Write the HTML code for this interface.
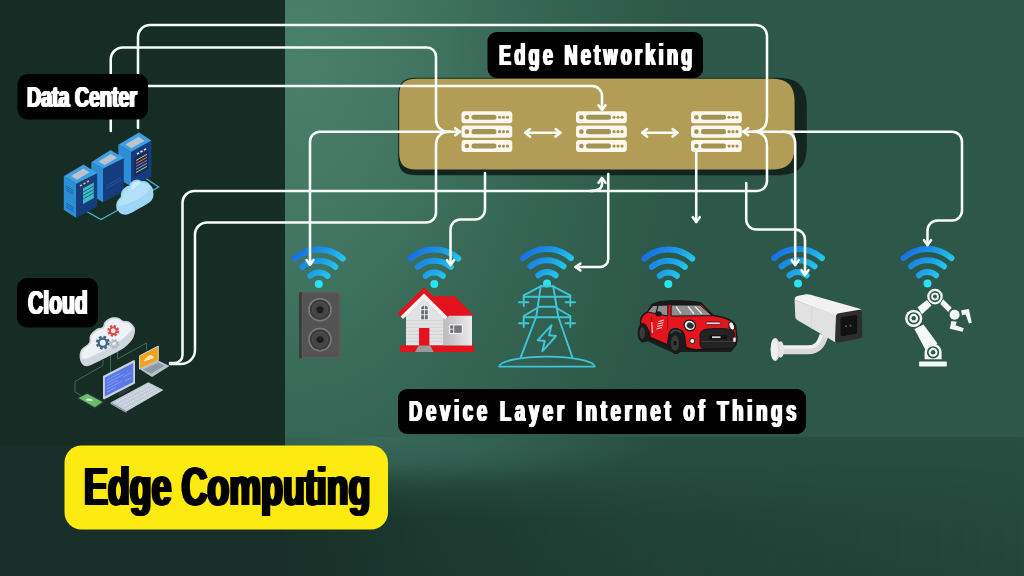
<!DOCTYPE html>
<html lang="en">
<head>
<meta charset="utf-8">
<title>Edge Computing</title>
<style>
html,body{margin:0;padding:0;background:#162d26;}
body{width:1024px;height:576px;overflow:hidden;position:relative;font-family:"Liberation Sans",sans-serif;}
svg{position:absolute;left:0;top:0;display:block;}
.ln{fill:none;stroke:#f6fcf8;stroke-width:2.55;stroke-linecap:round;stroke-linejoin:round;}
.lbl{font-family:"Liberation Sans",sans-serif;font-weight:bold;}

.t{will-change:transform;position:absolute;white-space:nowrap;font-weight:bold;line-height:1;transform-origin:0 0;color:#fff;margin:0;}
</style>
</head>
<body>
<svg width="1024" height="576" viewBox="0 0 1024 576">
<defs>
  <radialGradient id="wall" cx="300" cy="50" r="400" gradientUnits="userSpaceOnUse" gradientTransform="translate(300 50) scale(1 1.7) translate(-300 -50)">
    <stop offset="0" stop-color="#49806c"/>
    <stop offset="0.25" stop-color="#437763"/>
    <stop offset="0.55" stop-color="#376756"/>
    <stop offset="0.85" stop-color="#2f5b4b"/>
    <stop offset="1" stop-color="#2d5748"/>
  </radialGradient>
  <linearGradient id="floorB" x1="0" y1="437" x2="0" y2="576" gradientUnits="userSpaceOnUse">
    <stop offset="0" stop-color="#274e41"/>
    <stop offset="1" stop-color="#23463a"/>
  </linearGradient>
  <linearGradient id="floorH" x1="285" y1="0" x2="1024" y2="0" gradientUnits="userSpaceOnUse">
    <stop offset="0" stop-color="#172f28" stop-opacity="0.95"/>
    <stop offset="0.2" stop-color="#172f28" stop-opacity="0.6"/>
    <stop offset="0.5" stop-color="#172f28" stop-opacity="0.25"/>
    <stop offset="1" stop-color="#172f28" stop-opacity="0"/>
  </linearGradient>
  <linearGradient id="floorM" x1="0" y1="466" x2="0" y2="522" gradientUnits="userSpaceOnUse">
    <stop offset="0" stop-color="#fff" stop-opacity="0"/>
    <stop offset="1" stop-color="#fff" stop-opacity="1"/>
  </linearGradient>
  <mask id="fm" maskUnits="userSpaceOnUse" x="0" y="437" width="1024" height="139">
    <rect x="0" y="437" width="1024" height="139" fill="url(#floorM)"/>
  </mask>
  <radialGradient id="glow" cx="380" cy="437" r="280" gradientUnits="userSpaceOnUse" gradientTransform="translate(380 437) scale(1 0.2) translate(-380 -437)">
    <stop offset="0" stop-color="#38695a" stop-opacity="1"/>
    <stop offset="0.5" stop-color="#38695a" stop-opacity="0.6"/>
    <stop offset="1" stop-color="#38695a" stop-opacity="0"/>
  </radialGradient>
  <linearGradient id="wf" x1="-27" y1="-40" x2="20" y2="0" gradientUnits="userSpaceOnUse">
    <stop offset="0" stop-color="#155ee0"/>
    <stop offset="0.55" stop-color="#1c9fe8"/>
    <stop offset="1" stop-color="#2be4f2"/>
  </linearGradient>
  <linearGradient id="hside" x1="443" y1="0" x2="472" y2="0" gradientUnits="userSpaceOnUse"><stop offset="0" stop-color="#b9b9b9"/><stop offset="1" stop-color="#ececec"/></linearGradient>
  <g id="wifi" fill="none" stroke="url(#wf)" stroke-width="6" stroke-linecap="round">
    <path d="M-23.9,-25.5 A36.5,36.5 0 0 1 23.9,-25.5"/>
    <path d="M-16.5,-17.2 A25.5,25.5 0 0 1 16.5,-17.2"/>
    <path d="M-8.6,-8.2 A13.2,13.2 0 0 1 8.6,-8.2"/>
    <circle cx="0" cy="0" r="4" fill="#2be2f2" stroke="none"/>
  </g>
  <g id="srvrow">
    <rect x="0" y="0" width="50.8" height="12.1" rx="3" fill="#fdf9ec"/>
    <circle cx="5.4" cy="6.05" r="2.3" fill="#a39357"/>
    <rect x="10" y="3.5" width="25" height="5.1" rx="2.5" fill="#a39357"/>
    <circle cx="38.1" cy="6.05" r="1.6" fill="#a39357"/>
    <circle cx="42" cy="6.05" r="1.6" fill="#a39357"/>
    <circle cx="46" cy="6.05" r="1.6" fill="#a39357"/>
  </g>
  <g id="srv">
    <use href="#srvrow" x="0" y="0"/>
    <use href="#srvrow" x="0" y="14.4"/>
    <use href="#srvrow" x="0" y="28.8"/>
  </g>
</defs>

<!-- background -->
<rect x="0" y="0" width="1024" height="576" fill="#172f28"/>
<rect x="285" y="0" width="739" height="438" fill="url(#wall)"/>
<rect x="285" y="437" width="739" height="139" fill="url(#floorB)"/>
<rect x="285" y="437" width="739" height="70" fill="url(#glow)"/>
<rect x="285" y="437" width="739" height="139" fill="url(#floorH)" mask="url(#fm)"/>
<rect x="0" y="0" width="285" height="445.500" fill="#162d26"/>

<!-- gold box -->
<path d="M416.2,77.7 H776.8 C798.4,77.7 806.8,86.1 806.8,107.7 V145.3 C806.8,166.9 798.4,175.3 776.8,175.3 H416.2 C403.2,175.3 398.2,170.3 398.2,157.3 V95.7 C398.2,82.7 403.2,77.7 416.2,77.7 Z" fill="#12261f"/>
<path d="M416.2,78.8 H770.6 C787.9,78.8 794.6,85.5 794.6,102.8 V145.6 C794.6,162.9 787.9,169.6 770.6,169.6 H416.2 C404.0,169.6 399.2,164.8 399.2,152.6 V95.8 C399.2,83.6 404.0,78.8 416.2,78.8 Z" fill="#b39c55"/>

<!-- wifi icons -->
<use href="#wifi" x="318.8" y="284"/>
<use href="#wifi" x="434.3" y="284"/>
<use href="#wifi" x="547" y="283.5"/>
<use href="#wifi" x="668.3" y="284"/>
<use href="#wifi" x="798" y="283.5"/>
<use href="#wifi" x="927.5" y="283.5"/>

<!-- lines -->
<g class="ln">
  <path d="M138,128 V37 A12,12 0 0 1 150,25 H756 A11,11 0 0 1 767,36 V117 Q767,131.7 753,131.7"/>
  <path d="M753,131.7 Q767,131.7 767,146 V181 A10,10 0 0 1 757,191 H194.5 A12,12 0 0 0 182.5,203 V355 A8,8 0 0 1 174.5,363 H170"/>
  <path d="M590,191 Q602,191 602,184 V178"/>
  <path d="M110.75,131 V59.5 A12,12 0 0 1 122.75,47.5 H427 A9,9 0 0 1 436,56.5 V118 Q436,131.7 450,131.7"/>
  <path d="M450,131.7 Q436,131.7 436,146 V212.5 A10,10 0 0 1 426,222.5 H207 A12,12 0 0 0 195,234.5 V350 A14,14 0 0 1 181,364 H170"/>
  <path d="M148,86 H592 A10,10 0 0 1 602,96 V110"/>
  <path d="M310,265 V142 A10,10 0 0 1 320,131.7 H460"/>
  <path d="M485,173 V209.5 A10,10 0 0 1 475,219.5 H460.5 A10,10 0 0 0 450.5,229.5 V265"/>
  <path d="M608.25,174 V259 A8,8 0 0 1 600.25,267 H575.5"/>
  <path d="M696.25,152 V222"/>
  <path d="M746.25,183 V219.5 A10,10 0 0 0 756.25,229.5 H795 A10,10 0 0 1 805,239.5 V275"/>
  <path d="M743,131.7 H952 A10,10 0 0 1 962,141.7 V210.5 A10,10 0 0 1 952,220.5 H937.5 A10,10 0 0 0 927.5,230.5 V245"/>
  <path d="M783,131.7 Q795.2,131.7 795.2,144 V265"/>
  <!-- double arrows -->
  <path d="M525.2,132.8 H560.4"/>
  <path d="M642.2,132.8 H677.4"/>
  <!-- arrow heads -->
  <path d="M455.2,128.2 L460.0,131.7 L455.2,135.2"/>
  <path d="M748.1,128.2 L743.3,131.7 L748.1,135.2"/>
  <path d="M598.5,105.2 L602.0,110.0 L605.5,105.2"/>
  <path d="M598.5,182.8 L602.0,178.0 L605.5,182.8"/>
  <path d="M306.5,260.0 L310.0,264.8 L313.5,260.0"/>
  <path d="M447.0,260.2 L450.5,265.0 L454.0,260.2"/>
  <path d="M580.4,263.5 L575.6,267.0 L580.4,270.5"/>
  <path d="M692.8,217.2 L696.2,222.0 L699.8,217.2"/>
  <path d="M801.5,270.2 L805.0,275.0 L808.5,270.2"/>
  <path d="M791.7,260.2 L795.2,265.0 L798.7,260.2"/>
  <path d="M924.0,240.2 L927.5,245.0 L931.0,240.2"/>
  <path d="M530.0,129.0 L525.2,132.8 L530.0,136.6"/>
  <path d="M555.6,129.0 L560.4,132.8 L555.6,136.6"/>
  <path d="M647.0,129.0 L642.2,132.8 L647.0,136.6"/>
  <path d="M672.6,129.0 L677.4,132.8 L672.6,136.6"/>
</g>

<!-- servers -->
<use href="#srv" x="461.5" y="111.2"/>
<use href="#srv" x="576" y="111.2"/>
<use href="#srv" x="691" y="111.2"/>

<!-- ICONS-BEGIN -->
<!-- data center icon -->
<g id="datacenter">
  <!-- cables -->
  <path d="M84,210 L101,219.500 L120,209" fill="none" stroke="#4fb4cc" stroke-width="1.300"/>
  <path d="M143,176.500 L158.600,187 L150,192" fill="none" stroke="#4fb4cc" stroke-width="1.300"/>
  <!-- rack 3 (back) -->
  <polygon points="118.300,144.800 131,152 131,186.300 118.300,179" fill="#2b8fd8"/>
  <polygon points="131,152 151.400,140.600 151.400,176.400 131,186.300" fill="#153d7e"/>
  <polygon points="118.300,144.800 139,132.500 151.400,140.600 131,152" fill="#3f9fe2"/>
  <polygon points="125.500,144.500 138.500,136.800 144.500,140.800 131.500,148.300" fill="#b9c4cc"/>
  <polygon points="134.500,157.500 148.500,149.500 148.500,168.500 134.500,177" fill="#0f2d62"/>
  <g stroke-width="1" fill="none">
    <path d="M136,160.500 L147,154.300" stroke="#f2c14e"/>
    <path d="M136,163.500 L147,157.300" stroke="#e8734a"/>
    <path d="M136,166.500 L147,160.300" stroke="#e85a6a"/>
    <path d="M136,169.500 L147,163.300" stroke="#48c4d8"/>
    <path d="M136,172.500 L147,166.300" stroke="#f2c14e"/>
  </g>
  <path d="M137,154 L139,152.900 M140.500,152 L142.500,150.900 M144,150 L146,148.900" stroke="#f4e9d0" stroke-width="1.600"/>
  <!-- rack 2 (middle) -->
  <polygon points="91.300,162.200 103,168.800 103,202.200 91.300,195.500" fill="#2b8fd8"/>
  <polygon points="103,168.800 123.800,158 123.800,191.300 103,202.200" fill="#153d7e"/>
  <polygon points="91.300,162.200 110.500,150 123.800,158 103,168.800" fill="#3f9fe2"/>
  <polygon points="98.500,161.500 111,154 117,157.800 104.500,165.200" fill="#b9c4cc"/>
  <path d="M106,186 L121,177.800 M106,188.500 L121,180.300" stroke="#24559c" stroke-width="0.900"/>
  <!-- rack 1 (front) -->
  <polygon points="63.800,176.300 76.300,183.800 76.300,218 63.800,209.700" fill="#2b8fd8"/>
  <polygon points="76.300,183.800 97.200,173 97.200,206.300 76.300,218" fill="#153d7e"/>
  <polygon points="63.800,176.300 83.500,164.500 97.200,173 76.300,183.800" fill="#3f9fe2"/>
  <polygon points="71,176 83.500,168.500 89.500,172.300 77,179.800" fill="#b9c4cc"/>
  <polygon points="83,188.500 93.800,182.500 93.800,198 83,204" fill="#3bbfc4"/>
  <path d="M80,186 L82,184.900 M83.500,184 L85.500,182.900 M87,182 L89,180.900" stroke="#f2b04e" stroke-width="1.600"/>
  <path d="M83,192 L93.800,186 M83,195.500 L93.800,189.500 M83,199 L93.800,193" stroke="#153d7e" stroke-width="0.800"/>
  <path d="M66,186 L73.500,190.500 M66,188 L73.500,192.500 M66,190 L73.500,194.500 M66,203 L73.500,207.500 M66,205 L73.500,209.500 M66,207 L73.500,211.500" stroke="#1a5ea8" stroke-width="0.900"/>
  <!-- cloud -->
  <path d="M116.200,206.500 C116,202 118.500,199 120.800,197 C120.500,193 122,189.500 125,187.500 C127,186 128.500,185.800 129.500,185.500 C130,183 132,180.500 136,179.800 C138.500,179.500 140.500,180.300 141.500,181.300 C144.500,180.500 148.500,182 150.500,185.300 C152.500,187 153.500,190 153.300,192.500 C154,196 152.800,199.800 150,202 C146,205 142,206.800 138.900,208.400 C135.500,210.500 132,212.500 129.600,213.600 C127.500,214.800 125.500,215 124,214.600 C121.500,214.300 119.500,213 118.800,211.500 C117,210.500 116.200,208.500 116.200,206.500 Z" fill="#9dd6f7"/>
  <path d="M118,206 C118,202 120,199.500 122.300,198 C122,193.500 124,190.500 126.500,189 C128,188 129.500,187.500 130.800,187.300 C131.500,184.500 133.500,182 136.500,181.500 C139,181.200 141,182.300 142,183.500 C145,182.500 148.500,184 150,187 C149,192 144,196 139,198.500 C133,201.500 125,205.500 118,206 Z" fill="#b4e0f9"/>
  <path d="M130.800,187.300 C131.500,184.500 133.500,182 136.500,181.500 C138.500,181.300 140,182 141,182.800 C138,184 135,186.500 133.500,190 C132.500,189 131.500,188 130.800,187.300 Z" fill="#d2ecfb"/>
</g>
<!-- cloud/devices icon -->
<g id="clouddev">
  <g fill="none" stroke="#4b6f63" stroke-width="0.900">
    <path d="M103,360 L103,365.500 L75,381.500 L75,392 L82,396"/>
    <path d="M110.500,352 L110.500,372"/>
    <path d="M117.500,350 L117.500,359 L146.500,343 L146.500,350"/>
  </g>
  <!-- cloud -->
  <path d="M79.6,356.2 C79.6,353.8 80.1,351.3 81.7,349.0 C83.3,346.7 87.6,345.0 89.0,342.7 C90.4,340.4 88.8,337.6 90.0,335.4 C91.2,333.1 94.2,330.6 96.2,329.2 C98.3,327.8 101.1,328.3 102.5,327.1 C103.9,325.9 103.2,323.5 104.6,321.9 C106.0,320.3 108.5,318.4 110.8,317.7 C113.0,317.0 116.0,317.2 118.1,317.7 C120.2,318.2 121.4,320.1 123.3,320.8 C125.2,321.5 127.7,320.7 129.6,321.9 C131.5,323.1 134.1,325.7 134.8,328.1 C135.5,330.5 134.6,334.1 133.8,336.5 C132.9,338.9 131.5,340.6 129.6,342.7 C127.7,344.8 125.8,346.7 122.3,349.0 C118.8,351.3 113.1,354.0 108.8,356.2 C104.4,358.5 99.9,360.8 96.2,362.5 C92.6,364.2 89.3,366.1 86.9,366.2 C84.5,366.4 82.9,365.2 81.7,363.5 C80.5,361.8 79.6,358.7 79.6,356.2 Z" fill="#cfd6de"/>
  <path d="M81.5,355.5 C81.6,353.9 82.0,351.5 83.5,349.5 C85.0,347.5 89.1,345.8 90.5,343.5 C91.9,341.2 90.6,338.1 91.8,336.0 C93.0,333.9 95.5,331.9 97.5,330.7 C99.5,329.4 102.4,329.8 103.8,328.5 C105.2,327.2 104.7,324.5 106.0,323.0 C107.3,321.5 109.5,319.9 111.5,319.3 C113.5,318.7 116.1,318.8 118.0,319.3 C119.9,319.8 121.2,321.6 123.0,322.3 C124.8,323.0 127.2,322.5 128.8,323.5 C130.4,324.5 132.6,326.8 132.5,328.5 C132.4,330.2 130.1,331.9 128.0,334.0 C125.9,336.1 123.3,338.6 120.0,341.0 C116.7,343.4 112.0,346.2 108.0,348.5 C104.0,350.8 99.3,352.9 96.0,354.5 C92.7,356.1 90.2,357.2 88.0,358.0 C85.8,358.8 84.1,359.4 83.0,359.0 C81.9,358.6 81.4,357.1 81.5,355.5 Z" fill="#eef1f5"/>
  <!-- gears -->
  <circle cx="102.800" cy="342.700" r="5.300" fill="none" stroke="#3d6a86" stroke-width="3.400" stroke-dasharray="2.400 1.760"/>
  <circle cx="102.800" cy="342.700" r="4.100" fill="none" stroke="#3d6a86" stroke-width="2.200"/>
  <circle cx="113.200" cy="330.800" r="4.400" fill="none" stroke="#e2473f" stroke-width="3" stroke-dasharray="2 1.456"/>
  <circle cx="113.200" cy="330.800" r="3.400" fill="none" stroke="#e2473f" stroke-width="1.900"/>
  <circle cx="114.300" cy="344" r="3.700" fill="none" stroke="#b4b9c2" stroke-width="2.600" stroke-dasharray="1.700 1.206"/>
  <circle cx="114.300" cy="344" r="2.900" fill="none" stroke="#b4b9c2" stroke-width="1.600"/>
  <!-- monitor -->
  <polygon points="118,392.500 128,387.500 131,389.500 119,396" fill="#2c3a44"/>
  <polygon points="103,376 134,360 135,360.800 135,383.500 104,399.500 103,398.800" fill="#c9d2dc"/>
  <polygon points="104.800,377.500 133.200,363 133.200,382 104.800,396.500" fill="#5a78e6"/>
  <path d="M107,380 L120,373.300 M107,383 L124,374.300 M107,386 L118,380.300 M107,389 L122,381.300 M107,392 L116,387.300 M123,377 L131,372.900 M125,381 L131,377.900" stroke="#8ea4f4" stroke-width="0.800"/>
  <!-- laptop -->
  <polygon points="139.500,355.800 158.300,346 158.300,360.400 139.500,369" fill="#f0a21f"/>
  <polygon points="139.500,355.800 158.300,346 158.300,360.400 139.500,369" fill="none" stroke="#d7dde4" stroke-width="0.900"/>
  <path d="M144,361.500 C144,359 146.500,358.500 147,357.500 C148,355 151.500,354 152.500,356 C154,355.500 154.500,357.500 153,358.500 Z" fill="#fbe6b8"/>
  <polygon points="139.500,369 158.300,360.400 169.500,366 152,377" fill="#b9c2cc"/>
  <polygon points="143,369.500 158,362.600 164.500,365.800 151,373.800" fill="#8e99a6"/>
  <!-- keyboard -->
  <polygon points="110.500,402.500 148.300,382.300 163.500,390 126.500,411.500" fill="#c3ccd6"/>
  <polygon points="110.500,402.500 126.500,411.500 126.500,413 110.500,404" fill="#9aa5b2"/>
  <path d="M116,402.500 L150,384.500 M119.500,404.500 L153.500,386.500 M123,406.500 L157,388.500 M126.500,408.500 L160.500,390.500" stroke="#e4e9ef" stroke-width="0.900" stroke-dasharray="1.800 0.900"/>
  <!-- phone -->
  <polygon points="76,398 87,392.300 105,402 95.200,409" fill="#27352f"/>
  <polygon points="78.500,398 87,393.700 102.500,402 94.800,407.300" fill="#69bb6d"/>
  <path d="M86,400.500 C86,398.500 88.500,398 89.500,399 C91,398 93,399.500 92.500,401 Z" fill="#d8f0da"/>
</g>
<!-- speaker -->
<g id="speaker">
  <rect x="299" y="292" width="41.200" height="66.300" rx="2.500" fill="#535353"/>
  <rect x="299" y="292" width="3.200" height="66.300" rx="1.500" fill="#3a3a3a"/>
  <rect x="302.200" y="293" width="37" height="64.300" fill="none" stroke="#646464" stroke-width="0.700"/>
  <circle cx="320" cy="309.700" r="11.800" fill="#7e7e7e"/>
  <circle cx="320" cy="309.700" r="10.300" fill="#3b3b3b"/>
  <circle cx="320" cy="309.700" r="7.600" fill="#444444" stroke="#565656" stroke-width="0.800"/>
  <circle cx="320" cy="309.700" r="3.400" fill="#1f1f1f"/>
  <circle cx="320" cy="339.600" r="11.800" fill="#7e7e7e"/>
  <circle cx="320" cy="339.600" r="10.300" fill="#3b3b3b"/>
  <circle cx="320" cy="339.600" r="7.600" fill="#444444" stroke="#565656" stroke-width="0.800"/>
  <circle cx="320" cy="339.600" r="3.400" fill="#1f1f1f"/>
</g>

<!-- house -->
<g id="house">
  <rect x="400.200" y="345.200" width="73.800" height="6.800" rx="1" fill="#e3121c"/>
  <polygon points="418.500,345.800 430.300,345.800 433.600,352 415,352" fill="#9a9a9a"/>
  <!-- side wall -->
  <rect x="443" y="315" width="29" height="30.500" fill="url(#hside)"/>
  <!-- right roof -->
  <polygon points="433,296.300 454.800,296.300 473.800,315.800 449.600,315.800" fill="#e3121c"/>
  <!-- front wall -->
  <polygon points="406,345.300 406,314.500 424,297 443.200,315.500 443.200,345.300" fill="#e2e2e2"/>
  <path d="M406,320.500 H443 M406,324 H443 M406,327.500 H443 M406,331 H443 M406,334.500 H443 M406,338 H443 M406,341.500 H443" stroke="#cfcfcf" stroke-width="0.700"/>
  <!-- gable trim -->
  <path d="M399.500,316 L424,291.800 L448.300,316.500" fill="none" stroke="#e3121c" stroke-width="6.500" stroke-linejoin="miter"/>
  <path d="M401.800,317.800 L424,296 L446.500,318.300" fill="none" stroke="#f6f6f6" stroke-width="3.600" stroke-linejoin="miter"/>
  <!-- door -->
  <rect x="419.100" y="328" width="10.300" height="17.300" fill="#e3121c"/>
  <!-- upper window -->
  <path d="M420.400,320 V308.500 A4.100,4.100 0 0 1 428.600,308.500 V320 Z" fill="#f4f4f4"/>
  <path d="M421.200,309.300 A3.300,3.300 0 0 1 424.100,305.500 V309.300 Z M424.900,305.500 A3.300,3.300 0 0 1 427.800,309.300 H424.900 Z" fill="#6a6e73"/>
  <rect x="421.200" y="310.200" width="2.900" height="4.100" fill="#6a6e73"/>
  <rect x="424.900" y="310.200" width="2.900" height="4.100" fill="#6a6e73"/>
  <rect x="421.200" y="315.200" width="2.900" height="4.100" fill="#6a6e73"/>
  <rect x="424.900" y="315.200" width="2.900" height="4.100" fill="#6a6e73"/>
  <!-- side window -->
  <rect x="449.200" y="324.400" width="13.600" height="9.600" fill="#f4f4f4"/>
  <rect x="450.200" y="325.400" width="3" height="3.300" fill="#6a6e73"/>
  <rect x="450.200" y="329.600" width="3" height="3.300" fill="#6a6e73"/>
  <rect x="454.200" y="325.400" width="7.600" height="7.500" fill="#74787d"/>
</g>

<!-- tower -->
<g id="tower" fill="none" stroke="#3ec6d8" stroke-width="1.900" stroke-linecap="round" stroke-linejoin="round">
  <path d="M540.700,286.300 H553.200"/>
  <path d="M540.700,286.300 L536.300,316.500 L520.700,357.300"/>
  <path d="M553.200,286.300 L558.200,316.500 L572.300,357.300"/>
  <path d="M540.700,286.300 L523.700,295.300 V306 M553.200,286.300 L570.300,295.300 V306"/>
  <path d="M523.700,296.800 H570.300"/>
  <path d="M519,302.200 H528.300 M565.500,302.200 H575"/>
  <path d="M539.300,306.800 H554.500 M539.300,306.800 L523.700,316 V327 M554.500,306.800 L570.300,316 V327"/>
  <path d="M523.700,317.300 H570.300"/>
  <path d="M519,323.200 H528.300 M565.500,323.200 H575"/>
  <path d="M499.300,366.600 C499.300,361.500 520,356.600 547,356.600 C574,356.600 594.700,361.500 594.700,366.600 Z"/>
  <path d="M551.500,325.200 L537.700,340.200 L544.800,341 L542.300,351.300 L556,336 L549,335.200 Z"/>
</g>

<!-- car -->
<g id="car" stroke-linejoin="round">
  <!-- shadow/underbody -->
  <path d="M641,338 L671,352 L731,352 L736.500,345 L736.500,335 L700,330 Z" fill="#1c1c1c"/>
  <ellipse cx="646" cy="331.500" rx="6.500" ry="10.500" fill="#1c1c1c"/>
  <!-- body -->
  <path d="M640.500,321 C641,316.500 644,313.500 647.500,312 L652,304.500 C660,301 690,300.500 701,303 L713,315.500 C724,317 733,320 735.500,325.500 L737,338 C737,343 735.500,346 733,347 L700,349.500 C694,350 689,349 686,347.500 L684.500,336 C683,328 672,326 669,333.500 L667.500,345 L650,337.500 C649.500,329 645,324 641,326 Z" fill="#e5151d" stroke="#151515" stroke-width="1.400"/>
  <!-- roof -->
  <path d="M650.500,305.500 C654,301.500 662,300.300 676,300.300 C690,300.300 698,301 702,303.500 L700,305 L670.500,305 L652.500,306.500 Z" fill="#1a1a1a"/>
  <!-- windows -->
  <polygon points="671.100,305 700,305 712,315.700 671.100,316" fill="#8e8e8e" stroke="#151515" stroke-width="1"/>
  <polygon points="653,305.500 667.800,305 667.800,316 658,314 647.600,312" fill="#8e8e8e" stroke="#151515" stroke-width="1"/>
  <path d="M658,305.500 L656,313.500" stroke="#151515" stroke-width="1.200"/>
  <path d="M676,306.500 L681,313.500 M688,306.500 L694,314 M695,306.500 L702,314" stroke="#e8e8e8" stroke-width="1.300"/>
  <!-- door line / highlights -->
  <path d="M651.500,316.500 L650.500,336.500 M667.800,317 L667.500,330" stroke="#8f0d12" stroke-width="0.900" fill="none"/>
  <path d="M658.500,321.500 L664,320 M657.500,324 L663.500,322.500 M657,326.500 L663,325 M656.500,329 L662,327.500" stroke="#ffd9d9" stroke-width="1"/>
  <path d="M651.800,322 L652.300,333" stroke="#ffc9c9" stroke-width="1.200"/>
  <ellipse cx="658.500" cy="313.800" rx="3.200" ry="2.600" fill="#1a1a1a"/>
  <!-- wheels -->
  <ellipse cx="642.900" cy="332.800" rx="5.300" ry="9.800" fill="#1b1b1b"/>
  <ellipse cx="642.300" cy="333" rx="2.700" ry="6" fill="#3a3a3a"/>
  <ellipse cx="676" cy="342.500" rx="7.200" ry="11.500" fill="#1b1b1b"/>
  <ellipse cx="675" cy="343" rx="4" ry="7.800" fill="#3a3a3a"/>
  <ellipse cx="675" cy="343" rx="1.500" ry="2.600" fill="#151515"/>
  <!-- grille -->
  <path d="M700,334 C701,329.500 706,328.500 718,328.500 C729,328.500 733.500,329.500 734.500,333.500 L735.500,343 C735.500,346.500 733,348.500 729,348.500 L706,349 C702,349 700,347 700,344 Z" fill="#232323" stroke="#111" stroke-width="0.800"/>
  <rect x="709.500" y="335.300" width="17" height="4" fill="#0d0d0d"/>
  <rect x="712" y="336.300" width="8.500" height="1.800" fill="#d8d8d8"/>
  <path d="M701,341.500 H735" stroke="#3c3c3c" stroke-width="1"/>
  <!-- hood scoop -->
  <rect x="706" y="322" width="14.500" height="2.600" rx="1.300" fill="#f4d0d0" stroke="#151515" stroke-width="0.700"/>
  <!-- headlights -->
  <ellipse cx="689.800" cy="325.400" rx="5.800" ry="5.200" fill="#f4f4f4" stroke="#151515" stroke-width="1.300" transform="rotate(25 689.800 325.400)"/>
  <ellipse cx="690.300" cy="325.600" rx="3.600" ry="3" fill="#2a2f36" transform="rotate(25 690.300 325.600)"/>
  <ellipse cx="731.700" cy="326" rx="2.600" ry="4.300" fill="#f4f4f4" stroke="#151515" stroke-width="1.100" transform="rotate(-20 731.700 326)"/>
  <circle cx="692.300" cy="341" r="2.600" fill="#f0f0f0" stroke="#151515" stroke-width="1"/>
  <rect x="733.300" y="337.500" width="2.400" height="4.600" rx="1" fill="#f0f0f0"/>
</g>

<!-- camera -->
<g id="camera">
  <!-- wall plate & arm -->
  <path d="M780,349.800 H808 C817,349.800 821,345 824,335" fill="none" stroke="#d9d9d9" stroke-width="9" stroke-linecap="butt"/>
  <path d="M780,347.300 H808 C815.500,347.300 819,343.500 821.500,335" fill="none" stroke="#f1f1f1" stroke-width="3"/>
  <ellipse cx="780.500" cy="349.500" rx="3.600" ry="8.300" fill="#e6e6e6"/>
  <ellipse cx="775.300" cy="349.500" rx="4.600" ry="11.600" fill="#dedede"/>
  <ellipse cx="774.300" cy="349.500" rx="3.600" ry="11" fill="#efefef"/>
  <!-- body -->
  <path d="M794.600,300 C794.600,297.500 796,296.300 798.500,295.800 L806,294.300 C807.500,294 809,294.200 810.500,294.700 L859,308.500 C861,309.200 861.500,310 861.500,311.500 L836,315.500 Z" fill="#f2f2f2"/>
  <path d="M794.600,300 L836,314.500 L835.200,342.300 L798,320.500 C796,319.300 795.200,318 795.200,316 Z" fill="#e1e1e1"/>
  <path d="M812,306 L811.500,328.500" stroke="#d2d2d2" stroke-width="0.800" fill="none"/>
  <!-- front -->
  <path d="M836.200,316.500 C836.200,314.500 837,313.500 839,313.200 L859,309.800 C861,309.500 862,310.300 862,312 L862.300,335 C862.300,337 861.500,338 859.500,338.500 L838.500,342.500 C836.300,342.900 835.200,342 835.200,340 Z" fill="#2e2e2e"/>
  <path d="M840.500,319.500 C840.500,318 841.300,317.300 842.800,317 L855,315 C856.500,314.800 857.300,315.500 857.300,317 L857.300,331.500 C857.300,333 856.500,333.800 855,334 L843,336.300 C841.300,336.600 840.500,335.800 840.500,334.300 Z" fill="#121212"/>
  <circle cx="846" cy="326.200" r="0.900" fill="#666"/>
  <circle cx="850.500" cy="325.700" r="0.900" fill="#666"/>
</g>

<!-- robot arm -->
<g id="robot" fill="#f5f9f6">
  <rect x="919.100" y="361.400" width="27.700" height="5.100" rx="0.800"/>
  <polygon points="914.400,329 923.500,324.500 937.500,343.500 925,349"/>
  <path d="M924.600,359.300 V352.300 A8.500,8.500 0 0 1 941.600,352.300 V359.300 Z"/>
  <polygon points="917.500,307.300 927,300 931.500,305.500 922,314.300"/>
  <polygon points="943.200,299.200 951.700,307.700 948.200,311.900 940.300,304"/>
  <circle cx="913.700" cy="318.300" r="8.600"/>
  <circle cx="935" cy="296.600" r="7.800"/>
  <circle cx="954.600" cy="314.800" r="5"/>
  <polygon points="961.2,310.2 968.9,308.9 971.8,322.8 968.9,323.5 965.6,314.4 961.9,315.2"/>
  <polygon points="951.4,321 956.8,321.7 955.5,325.2 963.8,328.2 962.5,331.8 949.8,328.7"/>
  <g fill="none" stroke="#2d5749" stroke-width="1.700">
    <circle cx="913.700" cy="318.300" r="5.300"/>
    <circle cx="935" cy="296.600" r="4.700"/>
    <circle cx="933.100" cy="352.300" r="5.300"/>
  </g>
  <g fill="#2d5749">
    <circle cx="913.700" cy="318.300" r="2.200"/>
    <circle cx="935" cy="296.600" r="2"/>
    <circle cx="933.100" cy="352.300" r="2.200"/>
  </g>
</g>
<!-- ICONS-END -->

<!-- labels -->
<rect x="17.5" y="74" width="130.5" height="45.5" rx="10" fill="#000"/>

<rect x="17" y="278" width="81" height="49.5" rx="10" fill="#000"/>

<rect x="487.500" y="32" width="215.500" height="46" rx="9" fill="#000"/>

<rect x="398" y="389" width="408" height="45" rx="9" fill="#000"/>

<rect x="64.500" y="445.500" width="323.500" height="84" rx="17" fill="#fdea10"/>
</svg>

<div class="t" id="t1" style="left:27.4px;top:82.1px;font-size:30px;transform:scaleX(0.653);text-shadow:0.8px 0 #fff,-0.8px 0 #fff,1.6px 0 #fff,-1.6px 0 #fff;">Data Center</div>
<div class="t" id="t2" style="left:28px;top:285.5px;font-size:33.5px;transform:scaleX(0.63);text-shadow:0.8px 0 #fff,-0.8px 0 #fff,1.6px 0 #fff,-1.6px 0 #fff;">Cloud</div>
<div class="t" id="t3" style="left:498.7px;top:39.700px;font-size:30px;letter-spacing:5.5px;transform:scaleX(0.6);text-shadow:0.8px 0 #fff,-0.8px 0 #fff,1.6px 0 #fff,-1.6px 0 #fff;">Edge Networking</div>
<div class="t" id="t4" style="left:409px;top:396.700px;font-size:29px;letter-spacing:6.1px;transform:scaleX(0.63);text-shadow:0.8px 0 #fff,-0.8px 0 #fff,1.6px 0 #fff,-1.6px 0 #fff;">Device Layer Internet of Things</div>
<div class="t" id="t5" style="left:83.5px;top:459.500px;font-size:54.500px;color:#000;transform:scaleX(0.657);text-shadow:1.2px 0 #000,-1.2px 0 #000,2.4px 0 #000,-2.4px 0 #000;">Edge Computing</div>
</body>
</html>
